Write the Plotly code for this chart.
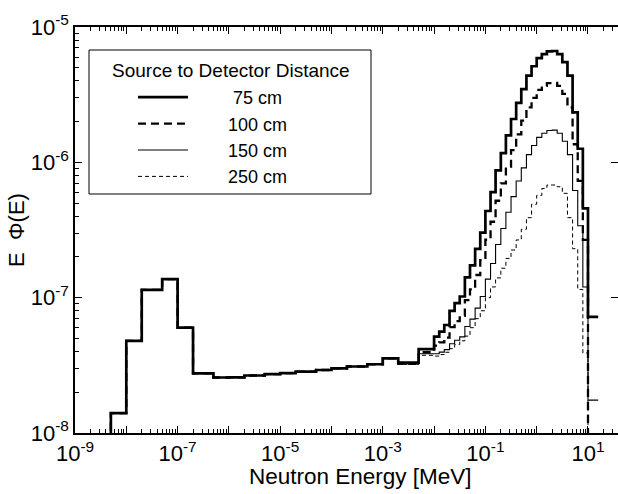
import plotly.graph_objects as go

# ---- bin edges (MeV) ----
low_edges = [5e-9, 1e-8, 2e-8, 5e-8, 1e-7, 2e-7, 5e-7, 1e-6, 2e-6, 5e-6, 1e-5,
             2e-5, 5e-5, 1e-4, 2e-4, 5e-4, 1e-3, 2e-3, 5e-3, 1e-2]
fine_edges = [0.0126, 0.0158, 0.02, 0.0251, 0.0316, 0.0398, 0.0501, 0.0631, 0.0794, 0.1,
              0.126, 0.158, 0.2, 0.251, 0.316, 0.398, 0.501, 0.631, 0.794, 1.0,
              1.26, 1.58, 2.0, 2.51, 3.16, 3.98, 5.01, 6.31, 7.94, 10.0]
tail_edge = 15.8

# ---- E*Phi(E) values ----
shared_low = [1.40e-8, 4.8e-8, 1.14e-7, 1.37e-7, 6.0e-8, 2.76e-8, 2.57e-8, 2.58e-8,
              2.66e-8, 2.72e-8, 2.77e-8, 2.84e-8, 2.92e-8, 3.0e-8, 3.1e-8, 3.22e-8, 3.56e-8]

flux_75 = [3.31e-8, 4.16e-8,
           5.15e-8, 5.61e-8, 6.28e-8, 7.98e-8, 9.10e-8, 1.02e-7, 1.41e-7, 1.73e-7, 2.29e-7, 3.02e-7,
           4.37e-7, 6.03e-7, 8.71e-7, 1.17e-6, 1.58e-6, 2.09e-6, 2.75e-6, 3.47e-6, 4.37e-6, 5.13e-6,
           5.89e-6, 6.31e-6, 6.61e-6, 6.65e-6, 6.31e-6, 5.50e-6, 4.37e-6, 2.34e-6, 1.26e-6, 4.57e-7]
flux_100 = [3.24e-8, 3.95e-8,
            4.42e-8, 4.68e-8, 5.07e-8, 6.06e-8, 6.71e-8, 7.34e-8, 9.6e-8, 1.15e-7, 1.47e-7, 1.89e-7,
            2.68e-7, 3.64e-7, 5.2e-7, 7.0e-7, 9.3e-7, 1.23e-6, 1.61e-6, 2.03e-6, 2.55e-6, 2.99e-6,
            3.43e-6, 3.67e-6, 3.85e-6, 3.87e-6, 3.67e-6, 3.2e-6, 2.55e-6, 1.36e-6, 7.3e-7, 2.67e-7]
flux_150 = [3.24e-8, 3.85e-8,
            3.85e-8, 3.96e-8, 4.13e-8, 4.57e-8, 4.85e-8, 5.13e-8, 6.13e-8, 6.94e-8, 8.37e-8, 1.02e-7,
            1.37e-7, 1.79e-7, 2.47e-7, 3.24e-7, 4.28e-7, 5.58e-7, 7.27e-7, 9.1e-7, 1.14e-6, 1.33e-6,
            1.53e-6, 1.64e-6, 1.72e-6, 1.73e-6, 1.64e-6, 1.43e-6, 1.14e-6, 6.2e-7, 3.4e-7, 1.2e-7]
flux_250 = [3.22e-8, 3.75e-8,
            3.7e-8, 3.8e-8, 3.95e-8, 4.2e-8, 4.5e-8, 4.8e-8, 5.2e-8, 6.0e-8, 7.0e-8, 8.0e-8,
            1.0e-7, 1.2e-7, 1.4e-7, 1.65e-7, 1.95e-7, 2.25e-7, 2.67e-7, 3.2e-7, 3.9e-7, 4.9e-7,
            5.7e-7, 6.4e-7, 6.8e-7, 6.8e-7, 6.6e-7, 5.9e-7, 3.9e-7, 2.3e-7, 1.15e-7, 3.9e-8]
tail_75 = 7.2e-8
tail_150 = 1.75e-8

labels = ["75 cm", "100 cm", "150 cm", "250 cm"]
legend_title = "Source to Detector Distance"
x_title = "Neutron Energy [MeV]"
y_title = "E \u00a0\u03a6(E)"
FLOOR = 1e-10  # below the axis: vertical edges run off the bottom


def step_xy(values, tail=None):
    edges = low_edges + fine_edges
    vals = shared_low + values
    if tail is not None:
        edges = edges + [tail_edge]
        vals = vals + [tail]
    x = [edges[0]] + edges[:-1] + [edges[-1]]
    y = [FLOOR] + vals + [vals[-1]]
    if tail is None:
        x.append(edges[-1])
        y.append(FLOOR)
    return x, y


series = [
    (labels[0], flux_75, tail_75, dict(width=2.7, dash="solid")),
    (labels[1], flux_100, None, dict(width=2.3, dash="8px,5px")),
    (labels[2], flux_150, tail_150, dict(width=1.1, dash="solid")),
    (labels[3], flux_250, None, dict(width=1.0, dash="4px,3px")),
]

NB = "\u00a0"
fig = go.Figure()
for i, (name, vals, tail, ls) in enumerate(series):
    x, y = step_xy(vals, tail)
    pad = NB * (8 if name == "75 cm" else 7)
    fig.add_trace(go.Scatter(
        x=x, y=y, mode="lines", line_shape="hv",
        line=dict(color="black", **ls),
        name=pad + name,
    ))
# empty helper traces so the tick-only overlay axes are drawn
fig.add_trace(go.Scatter(x=[], y=[], xaxis="x2", yaxis="y", showlegend=False, hoverinfo="skip"))
fig.add_trace(go.Scatter(x=[], y=[], xaxis="x", yaxis="y2", showlegend=False, hoverinfo="skip"))

FONT = "Liberation Sans, Arial, sans-serif"
x_major = [1e-9, 1e-7, 1e-5, 1e-3, 1e-1, 1e1]
x_text = ["10<sup>-9</sup>", "10<sup>-7</sup>", "10<sup>-5</sup>",
          "10<sup>-3</sup>", "10<sup>-1</sup>", "10<sup>1</sup>"]
x_odd = [1e-8, 1e-6, 1e-4, 1e-2, 1e0]
y_major = [1e-8, 1e-7, 1e-6, 1e-5]
y_text = ["10<sup>-8</sup>", "10<sup>-7</sup>", "10<sup>-6</sup>", "10<sup>-5</sup>"]

x_minor = [m * d for d in [1e-9, 1e-8, 1e-7, 1e-6, 1e-5, 1e-4, 1e-3, 1e-2, 1e-1, 1e0, 1e1]
           for m in range(2, 10)]
y_minor = [m * d for d in [1e-8, 1e-7, 1e-6] for m in range(2, 10)]

XR = [-9, 1.585]
YR = [-8, -5]
PL, PT, PW, PH = 75, 27, 543, 406  # plot area in px (for paper placement of the legend box)


def px_x(px):
    return (px - PL) / PW


def px_y(py):
    return 1 - (py - PT) / PH


fig.update_layout(
    width=618, height=494,
    margin=dict(l=75, r=0, t=27, b=61),
    paper_bgcolor="white", plot_bgcolor="white",
    font=dict(family=FONT, color="black", size=19),
    showlegend=True,
    legend=dict(
        x=px_x(133), y=px_y(79), xanchor="left", yanchor="top",
        borderwidth=0, bgcolor="rgba(0,0,0,0)",
        font=dict(family=FONT, size=18, color="black"),
        itemwidth=50, traceorder="normal",
    ),
    xaxis=dict(
        type="log", range=XR,
        showline=True, linecolor="black", linewidth=1.5, mirror="ticks",
        ticks="inside", ticklen=7, tickwidth=1, tickcolor="black",
        tickvals=x_major, ticktext=x_text,
        tickfont=dict(family=FONT, size=22),
        minor=dict(ticks="inside", ticklen=4, tickwidth=1, tickcolor="black", tickvals=x_minor),
        showgrid=False, zeroline=False,
    ),
    xaxis2=dict(
        type="log", range=XR, overlaying="x", anchor="y", side="bottom",
        showline=False, mirror="ticks", ticks="inside", ticklen=7, tickwidth=1, tickcolor="black",
        tickvals=x_odd, showticklabels=False, showgrid=False, zeroline=False,
    ),
    yaxis=dict(
        type="log", range=YR,
        showline=True, linecolor="black", linewidth=1.5, mirror=False,
        ticks="inside", ticklen=7, tickwidth=1, tickcolor="black",
        tickvals=y_major, ticktext=y_text,
        tickfont=dict(family=FONT, size=22),
        minor=dict(ticks="inside", ticklen=4, tickwidth=1, tickcolor="black", tickvals=y_minor),
        showgrid=False, zeroline=False,
        title=dict(text=y_title, font=dict(family=FONT, size=22), standoff=0),
    ),
    yaxis2=dict(
        type="log", range=YR, overlaying="y", anchor="x", side="right",
        showline=False, ticks="inside", ticklen=7, tickwidth=1, tickcolor="black",
        tickvals=y_major, showticklabels=False, showgrid=False, zeroline=False,
    ),
    shapes=[dict(type="rect", xref="paper", yref="paper",
                 x0=px_x(89), x1=px_x(371), y0=px_y(194), y1=px_y(50),
                 line=dict(color="black", width=1), fillcolor="rgba(0,0,0,0)", layer="above")],
    annotations=[
        dict(text=legend_title, xref="paper", yref="paper",
             x=px_x(231), y=px_y(70), xanchor="center", yanchor="middle",
             showarrow=False, font=dict(family=FONT, size=19, color="black")),
        dict(text=x_title, xref="paper", yref="paper",
             x=px_x(360), y=px_y(476), xanchor="center", yanchor="middle",
             showarrow=False, font=dict(family=FONT, size=22.5, color="black")),
    ],
)

fig.write_html("out.html")
